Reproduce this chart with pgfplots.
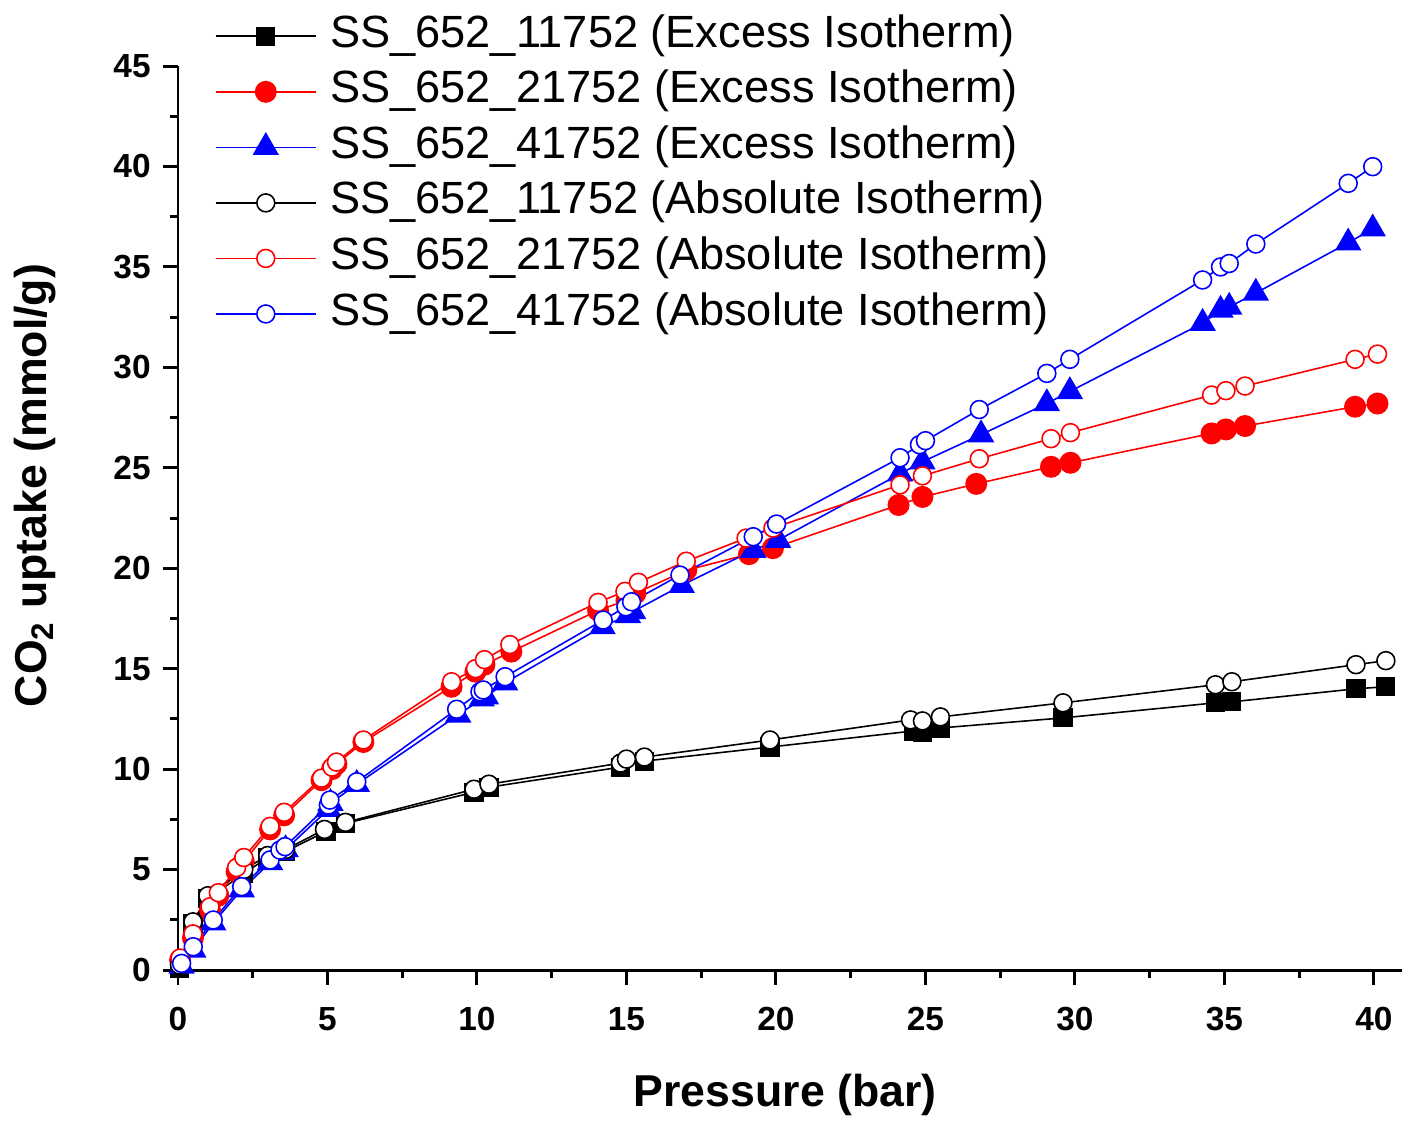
\documentclass[border=0pt]{standalone}
\usepackage{fontspec}
\setmainfont{Liberation Sans}
\usepackage{pgfplots}
\pgfplotsset{compat=1.18}
\begin{document}
\begin{tikzpicture}
\begin{axis}[
  scale only axis, width=12.24cm, height=9.04cm,
  xmin=0, xmax=40.94, ymin=0, ymax=45,
  xtick={0,5,...,40}, ytick={0,5,...,45},
  minor x tick num=1, minor y tick num=1,
  tick align=outside, axis x line*=bottom, axis y line*=left,
  major tick length=0.15cm, minor tick length=0.075cm,
  every tick/.style={line width=0.85pt, black},
  axis line style={line width=0.85pt},
  /pgf/number format/assume math mode=true,
  tick label style={font=\bfseries\fontsize{9.5}{11}\selectfont},
  xticklabel style={yshift=-0.1cm},
  xlabel={\bfseries Pressure (bar)},
  ylabel={\bfseries CO\textsubscript{2} uptake (mmol/g)},
  label style={font=\bfseries\fontsize{12.7}{15}\selectfont},
  xlabel style={at={(axis description cs:0.496,-0.138)}, anchor=center},
  ylabel style={at={(axis description cs:-0.117,0.536)}, anchor=center},
  legend style={draw=none, fill=none, inner sep=0pt, outer sep=0pt,
    at={(rel axis cs:0,1)}, anchor=north west, xshift=0.37cm, yshift=0.575cm,
    font=\fontsize{12.85}{15}\selectfont, column sep=0.1cm,
    nodes={text height=10pt, text depth=3.7pt, inner sep=1.05pt},
    cells={anchor=west}},
  legend image code/.code={\draw[mark repeat=2,mark phase=2,#1] plot coordinates {(0cm,0cm) (0.5cm,0cm) (1cm,0cm)};},
  every axis plot/.append style={line width=0.45pt},
]
\addplot[black, mark=square*, mark size=2.5pt, mark options={fill=black}] coordinates {
(0.05,0.1) (0.5,2.3) (1.0,3.55) (2.2,4.8) (3.0,5.6) (3.6,5.9) (4.95,6.9) (5.6,7.3) (9.9,8.85) (10.4,9.1) (14.8,10.1) (15.6,10.4) (19.8,11.1) (24.6,11.9) (24.9,11.85) (25.5,12.05) (29.6,12.55) (34.7,13.3) (35.25,13.35) (39.4,14.0) (40.4,14.1)};
\addlegendentry{SS\_652\_11752 (Excess Isotherm)}
\addplot[red, mark=*, mark size=2.9pt, mark options={fill=red}] coordinates {
(0.07,0.5) (0.5,1.6) (1.07,3.0) (1.35,3.7) (1.96,4.9) (2.2,5.4) (3.08,7.0) (3.55,7.7) (4.8,9.45) (5.15,10.0) (5.3,10.25) (6.2,11.35) (9.15,14.1) (9.95,14.85) (10.25,15.2) (11.15,15.85) (14.05,17.9) (15.0,18.4) (15.3,18.75) (17.0,19.9) (19.1,20.7) (19.9,21.0) (24.1,23.15) (24.9,23.55) (26.7,24.2) (29.2,25.05) (29.85,25.25) (34.57,26.71) (35.05,26.91) (35.69,27.08) (39.37,28.04) (40.12,28.2)};
\addlegendentry{SS\_652\_21752 (Excess Isotherm)}
\addplot[blue, mark=triangle*, mark size=3.9pt, mark options={fill=blue}] coordinates {
(0.12,0.2) (0.51,1.0) (1.18,2.35) (2.13,4.0) (3.08,5.35) (3.45,5.85) (3.6,6.0) (5.03,8.0) (5.1,8.3) (5.98,9.25) (9.37,12.7) (10.16,13.5) (10.3,13.6) (10.94,14.3) (14.2,17.1) (15.05,17.65) (15.22,17.85) (16.85,19.15) (19.24,20.9) (20.07,21.4) (24.15,24.7) (24.9,25.3) (26.86,26.65) (29.06,28.2) (29.83,28.8) (34.27,32.2) (34.87,32.85) (35.16,33.0) (36.05,33.7) (39.14,36.2) (39.96,36.9)};
\addlegendentry{SS\_652\_41752 (Excess Isotherm)}
\addplot[black, mark=*, mark size=2.55pt, mark options={fill=white}] coordinates {
(0.05,0.25) (0.5,2.4) (1.0,3.7) (2.2,5.0) (3.0,5.7) (3.6,6.0) (4.9,7.0) (5.6,7.35) (9.9,9.0) (10.4,9.25) (14.8,10.3) (15.0,10.5) (15.6,10.6) (19.8,11.45) (24.5,12.45) (24.9,12.4) (25.5,12.6) (29.6,13.3) (34.7,14.2) (35.25,14.35) (39.4,15.2) (40.4,15.4)};
\addlegendentry{SS\_652\_11752 (Absolute Isotherm)}
\addplot[red, mark=*, mark size=2.55pt, mark options={fill=white}] coordinates {
(0.07,0.6) (0.5,1.8) (1.07,3.15) (1.35,3.85) (1.96,5.1) (2.2,5.6) (3.08,7.15) (3.55,7.85) (4.8,9.55) (5.15,10.1) (5.3,10.35) (6.2,11.45) (9.15,14.35) (9.95,15.0) (10.25,15.45) (11.1,16.2) (14.05,18.3) (14.95,18.85) (15.4,19.3) (17.0,20.35) (19.0,21.5) (19.9,22.0) (24.15,24.15) (24.9,24.6) (26.8,25.45) (29.2,26.45) (29.85,26.75) (34.57,28.62) (35.05,28.84) (35.69,29.07) (39.37,30.4) (40.12,30.66)};
\addlegendentry{SS\_652\_21752 (Absolute Isotherm)}
\addplot[blue, mark=*, mark size=2.55pt, mark options={fill=white}] coordinates {
(0.12,0.33) (0.51,1.16) (1.18,2.49) (2.13,4.15) (3.08,5.48) (3.41,5.97) (3.58,6.14) (5.03,8.21) (5.08,8.46) (5.98,9.37) (9.32,12.98) (10.1,13.85) (10.21,13.94) (10.94,14.6) (14.22,17.42) (14.98,18.08) (15.17,18.33) (16.79,19.66) (19.24,21.57) (20.02,22.2) (24.15,25.5) (24.8,26.15) (25.0,26.35) (26.8,27.9) (29.06,29.7) (29.83,30.4) (34.27,34.35) (34.87,35.0) (35.16,35.17) (36.05,36.14) (39.14,39.16) (39.96,39.99)};
\addlegendentry{SS\_652\_41752 (Absolute Isotherm)}
\end{axis}
\pgfresetboundingbox
\path (-1.78cm,-1.63cm) rectangle (12.40cm,9.70cm);
\end{tikzpicture}
\end{document}
